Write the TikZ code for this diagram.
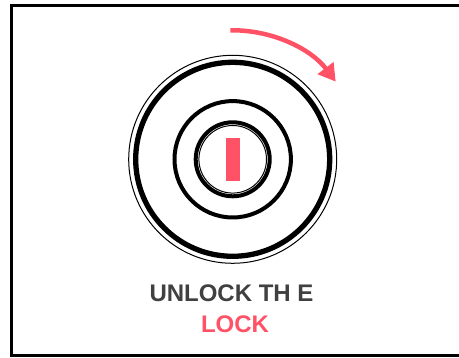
\documentclass[tikz,border=0pt]{standalone}
\usepackage{fontspec}
\setmainfont{Liberation Sans}
\usetikzlibrary{arrows.meta}
\definecolor{corVermelha}{RGB}{255,  82, 102}
\definecolor{corTexto}{RGB}{ 64,  64,  64}

\begin{document}
\begin{tikzpicture}[x=1pt, y=1pt]

  \useasboundingbox (0,0) rectangle (459,358);

  %% ================================================================
  %%  MOLDURA (sem lado direito)
  %% ================================================================
  \draw[line width=3.5pt] (459,352.7) -| (11.5,2.5) -- (459,2.5);

  %% ================================================================
  %%  FECHADURA — aneis concentricos
  %% ================================================================
  \coordinate (centro) at (232.7,198.7);

  \draw[line width=1pt]   (centro) circle (104);
  \draw[line width=5.3pt] (centro) circle (97);
  \draw[line width=4pt]   (centro) circle (58.2);
  \draw[line width=4pt]   (centro) circle (37);
  \draw[line width=1pt]   (centro) circle (33.8);

  % Fenda da chave
  \fill[corVermelha] (226,220) rectangle (240,177.3);

  %% ================================================================
  %%  SETA CURVA (sentido horario)
  %% ================================================================
  \draw[corVermelha, line width=4.5pt,
        -{Triangle[length=17pt, width=19pt]}]
    ([shift={(91:129)}]centro) arc[start angle=91, end angle=37, radius=129];

  %% ================================================================
  %%  ROTULOS
  %% ================================================================
  \node[font=\bfseries\fontsize{24}{28}\selectfont, text=corTexto,
        anchor=base, inner sep=0pt]
        (linhaUm) at (231.5,56.3) {UNLOCK TH E};
  \node[font=\bfseries\fontsize{24}{28}\selectfont, text=corVermelha,
        anchor=base, inner sep=0pt]
        (linhaDois) at (235,25.5) {LOCK};

\end{tikzpicture}
\end{document}
